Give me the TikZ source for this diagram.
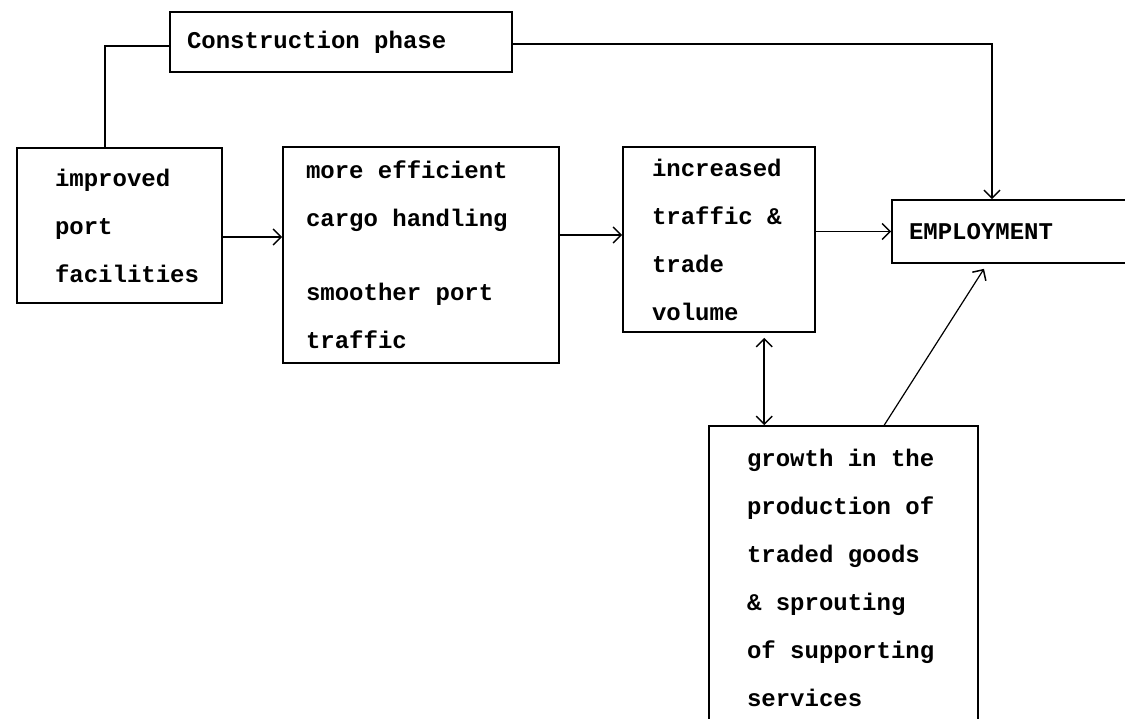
\documentclass[tikz,border=0pt]{standalone}
\usepackage{fontspec}
\setmonofont{Liberation Mono}
\usetikzlibrary{arrows.meta}
\newcommand\myboxfont{\ttfamily\bfseries\fontsize{24}{48}\selectfont}
\begin{document}
\begin{tikzpicture}[x=1pt,y=-1pt,
  box/.style={draw, line width=1.6pt, rectangle, inner ysep=0pt,
    align=left, font=\myboxfont,
    execute at begin node={\spaceskip=14.4pt\xspaceskip=14.4pt\relax}},
  conn/.style={line width=1.5pt},
  arr/.style={conn, -{Straight Barb[length=8pt,width=16pt,line width=1.5pt]}},
  darr/.style={conn, {Straight Barb[length=8pt,width=16pt,line width=1.5pt]}-{Straight Barb[length=8pt,width=16pt,line width=1.5pt]}}]
\useasboundingbox (0,0) rectangle (1125,719);
\node[box, inner xsep=17pt, text width=308pt, minimum height=60pt] (cons) at (341,42) {Construction phase};
\node[box, inner xsep=38pt, text width=129pt, minimum height=155pt] (imp) at (119.5,225.5) {improved\\port\\facilities};
\node[box, inner xsep=23pt, text width=230pt, minimum height=216pt] (eff) at (421,255) {more efficient\\cargo handling\\[26pt]smoother port\\traffic};
\node[box, inner xsep=29pt, text width=134pt, minimum height=185pt] (vol) at (719,239.5) {increased\\traffic \&\\trade\\volume};
\node[box, inner xsep=17pt, text width=226pt, minimum height=63pt] (emp) at (1022,231.5) {EMPLOYMENT};
\node[box, inner xsep=38pt, text width=193pt, minimum height=304pt] (grow) at (843.5,578) {growth in the\\production of\\traded goods\\\& sprouting\\of supporting\\services};
% connectors
\coordinate (c0) at ([yshift=-4pt]cons.west);
\coordinate (c1) at ([xshift=-14.5pt]imp.north);
\draw[conn] (c0) -| (c1);
\coordinate (c3) at ([yshift=-2pt]cons.east);
\coordinate (c2) at ([xshift=-30pt]emp.north);
\draw[arr] (c3) -| (c2);
\coordinate (a1) at ([yshift=-11.5pt]imp.east);
\draw[arr] (a1) -- (a1 -| eff.west);
\coordinate (a2) at ([yshift=20pt]eff.east);
\draw[arr] (a2) -- (a2 -| vol.west);
\coordinate (a3) at (vol.east |- emp.west);
\draw[arr] (a3) -- (emp.west);
\coordinate (d1) at ([xshift=56pt]grow.north west);
\draw[darr, shorten <=5pt] (d1 |- vol.south) -- (d1);
\coordinate (g1) at ([xshift=176pt]grow.north west);
\coordinate (e1) at ([xshift=96pt]emp.south west);
\draw[arr, line width=1.2pt, shorten >=6pt] (g1) -- (e1);
\end{tikzpicture}
\end{document}
